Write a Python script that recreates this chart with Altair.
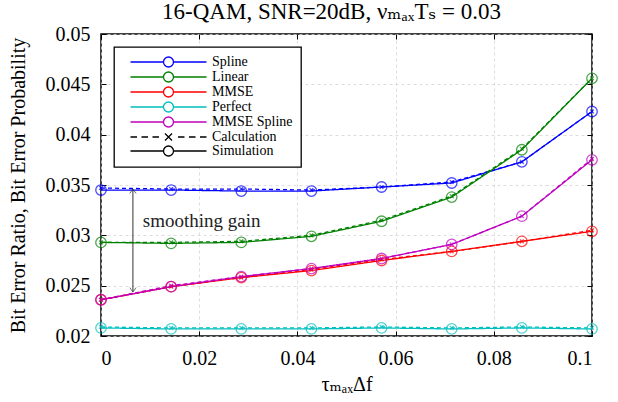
import altair as alt
import pandas as pd

# ---- data ----
x_vals = [0, 0.0142857, 0.0285714, 0.0428571, 0.0571429, 0.0714286, 0.0857143, 0.1]
methods = ["Spline", "Linear", "MMSE", "Perfect", "MMSE Spline"]
colors = ["#0000ff", "#008000", "#ff0000", "#00bfbf", "#bf00bf"]

sim_spline = [0.0345, 0.0345, 0.0344, 0.0344, 0.0348, 0.0352, 0.0373, 0.0423]
sim_linear = [0.0293, 0.0292, 0.0293, 0.0299, 0.0314, 0.0338, 0.0385, 0.0456]
sim_mmse = [0.0236, 0.0249, 0.0258, 0.0265, 0.0275, 0.0284, 0.0294, 0.0304]
sim_perfect = [0.0208, 0.0207, 0.0207, 0.0207, 0.0208, 0.0207, 0.0208, 0.0207]
sim_mmse_spline = [0.0236, 0.0249, 0.0259, 0.0267, 0.0277, 0.0291, 0.0319, 0.0375]

calc_spline = [0.0347, 0.0346, 0.0346, 0.0345, 0.0348, 0.0353, 0.0373, 0.0423]
calc_linear = [0.0293, 0.0293, 0.0294, 0.0300, 0.0315, 0.0339, 0.0386, 0.0456]
calc_mmse = [0.0236, 0.0249, 0.0258, 0.0266, 0.0276, 0.0284, 0.0294, 0.0305]
calc_perfect = [0.0209, 0.0208, 0.0208, 0.0208, 0.0209, 0.0208, 0.0209, 0.0208]
calc_mmse_spline = [0.0236, 0.0250, 0.0259, 0.0267, 0.0277, 0.0291, 0.0319, 0.0376]

x_ticks = [0, 0.02, 0.04, 0.06, 0.08, 0.1]
y_ticks = [0.02, 0.025, 0.03, 0.035, 0.04, 0.045, 0.05]

legend_entries = methods + ["Calculation", "Simulation"]
legend_colors = colors + ["#000000", "#000000"]

annot_x = [0.0065]
annot_top = [0.0346]
annot_bottom = [0.02437]
annot_text = ["smoothing gain"]
annot_text_x = [0.0085]
annot_text_y = [0.0314]

title_text = "16-QAM, SNR=20dB, \u03bd\u2098\u2090\u2093T\u209b = 0.03"
x_title = "\u03c4\u2098\u2090\u2093\u0394f"
y_title = "Bit Error Ratio, Bit Error Probability"

# ---- build tables ----
sim = [sim_spline, sim_linear, sim_mmse, sim_perfect, sim_mmse_spline]
calc = [calc_spline, calc_linear, calc_mmse, calc_perfect, calc_mmse_spline]
rows = []
for m, s_vals, c_vals in zip(methods, sim, calc):
    for xv, sv, cv in zip(x_vals, s_vals, c_vals):
        rows.append({"method": m, "type": "Calculation", "x": xv, "y": cv})
        rows.append({"method": m, "type": "Simulation", "x": xv, "y": sv})
df = pd.DataFrame(rows)
df["series"] = df["method"] + " " + df["type"]

W, H = 491, 302
FONT = "Times New Roman, Liberation Serif, Tinos, DejaVu Serif, serif"

xs = alt.Scale(domain=[0, 0.1], nice=False, zero=False)
ys = alt.Scale(domain=[0.02, 0.05], nice=False, zero=False)
cs = alt.Scale(domain=legend_entries, range=legend_colors)

# legend symbol paths (unit = 5 px)
circ_path = ("M 0.3 0 L 6.9 0 M 8.9 0 L 15.5 0 "
             "M 8.9 0 A 1 1 0 1 1 6.9 0 A 1 1 0 1 1 8.9 0")
calc_path = ("M 0.3 0 L 1.6 0 M 2.5 0 L 3.8 0 M 4.7 0 L 6.0 0 "
             "M 7.2 -0.7 L 8.6 0.7 M 7.2 0.7 L 8.6 -0.7 "
             "M 9.8 0 L 11.1 0 M 12.0 0 L 13.3 0 M 14.2 0 L 15.5 0")
shape_range = [circ_path] * 5 + [calc_path, circ_path]
x_marker = "M -1 -1 L 1 1 M -1 1 L 1 -1"

# axes
ax_x_main = alt.Axis(orient="bottom", values=x_ticks, format="~g", title=x_title,
                     grid=True, ticks=False, domain=False, labelPadding=12,
                     titlePadding=6)
ax_y_main = alt.Axis(orient="left", values=y_ticks, format="~g", title=y_title,
                     grid=True, ticks=False, domain=False, labelPadding=11,
                     titlePadding=17)
ax_x_in_bottom = alt.Axis(orient="top", offset=-H, values=x_ticks, labels=False,
                          title=None, grid=False, domain=False, ticks=True, tickSize=5)
ax_y_in_left = alt.Axis(orient="right", offset=-W, values=y_ticks, labels=False,
                        title=None, grid=False, domain=False, ticks=True, tickSize=5)
ax_x_in_top = alt.Axis(orient="bottom", offset=-H, values=x_ticks, labels=False,
                       title=None, grid=False, domain=False, ticks=True, tickSize=5)
ax_y_in_right = alt.Axis(orient="left", offset=-W, values=y_ticks, labels=False,
                         title=None, grid=False, domain=False, ticks=True, tickSize=5)

base = alt.Chart(df)

lines = base.mark_line(strokeWidth=1.3).encode(
    x=alt.X("x:Q", scale=xs, axis=ax_x_main),
    y=alt.Y("y:Q", scale=ys, axis=ax_y_main),
    color=alt.Color("method:N", scale=cs, legend=None),
    strokeDash=alt.StrokeDash("type:N", scale=alt.Scale(domain=["Calculation", "Simulation"],
                                                        range=[[4, 3], [1, 0]]), legend=None),
    detail="series:N",
)

sim_pts = base.transform_filter(alt.datum.type == "Simulation").mark_point(
    shape="circle", size=110, filled=False, strokeWidth=1.3
).encode(
    x=alt.X("x:Q", scale=xs, axis=ax_x_in_bottom),
    y=alt.Y("y:Q", scale=ys, axis=ax_y_in_left),
    color=alt.Color("method:N", scale=cs, legend=None),
)

calc_pts = base.transform_filter(alt.datum.type == "Calculation").mark_point(
    shape=x_marker, size=14, filled=False, strokeWidth=1.3
).encode(
    x=alt.X("x:Q", scale=xs, axis=ax_x_in_top),
    y=alt.Y("y:Q", scale=ys, axis=ax_y_in_right),
    color=alt.Color("method:N", scale=cs, legend=None),
)

annot_df = pd.DataFrame({"x": annot_x, "top": annot_top, "bottom": annot_bottom})
arrow = alt.Chart(annot_df).mark_rule(color="#333333", strokeWidth=1).encode(
    x=alt.X("x:Q", scale=xs, axis=None),
    y=alt.Y("top:Q", scale=ys, axis=None),
    y2="bottom:Q",
)
head_up = alt.Chart(annot_df).mark_point(
    shape="M -1 1.4 L 0 0 L 1 1.4", size=40, filled=False, color="#333333", strokeWidth=1
).encode(x=alt.X("x:Q", scale=xs, axis=None), y=alt.Y("top:Q", scale=ys, axis=None))
head_down = alt.Chart(annot_df).mark_point(
    shape="M -1 -1.4 L 0 0 L 1 -1.4", size=40, filled=False, color="#333333", strokeWidth=1
).encode(x=alt.X("x:Q", scale=xs, axis=None), y=alt.Y("bottom:Q", scale=ys, axis=None))

text_df = pd.DataFrame({"x": annot_text_x, "y": annot_text_y, "t": annot_text})
label = alt.Chart(text_df).mark_text(
    align="left", baseline="middle", font=FONT, fontSize=19, color="#222222"
).encode(
    x=alt.X("x:Q", scale=xs, axis=None),
    y=alt.Y("y:Q", scale=ys, axis=None),
    text="t:N",
)

leg_df = pd.DataFrame({"entry": legend_entries})
legend_layer = alt.Chart(leg_df).mark_point(filled=False, opacity=0).encode(
    color=alt.Color("entry:N", scale=cs, sort=legend_entries,
                    legend=alt.Legend(title=None, orient="none", legendX=13, legendY=13,
                                      symbolOpacity=1, symbolSize=100, symbolStrokeWidth=1.3,
                                      labelOffset=76, labelFont=FONT, labelFontSize=14,
                                      rowPadding=-5, padding=8, strokeColor="black",
                                      fillColor="white", symbolFillColor="transparent")),
    shape=alt.Shape("entry:N", scale=alt.Scale(domain=legend_entries, range=shape_range),
                    sort=legend_entries, legend=alt.Legend(title=None)),
)

chart = alt.layer(
    legend_layer, lines, sim_pts, calc_pts, arrow, head_up, head_down, label
).resolve_axis(x="independent", y="independent").properties(
    width=W, height=H,
    title=alt.TitleParams(text=title_text, font=FONT, fontSize=23, fontWeight="normal",
                          color="black", dx=-15, offset=0),
    padding={"left": 8, "top": 1, "right": 5, "bottom": 5},
).configure_view(stroke="black", strokeWidth=1.5).configure_axis(
    labelFont=FONT, labelFontSize=20, labelColor="black",
    titleFont=FONT, titleFontSize=20, titleFontWeight="normal", titleColor="black",
    gridColor="#d4d4d4", gridDash=[3, 3], gridWidth=0.8,
    tickColor="black", tickWidth=1,
).configure_legend(strokeWidth=1.3)

chart.save("out.html", embed_options={"renderer": "svg", "actions": False})
